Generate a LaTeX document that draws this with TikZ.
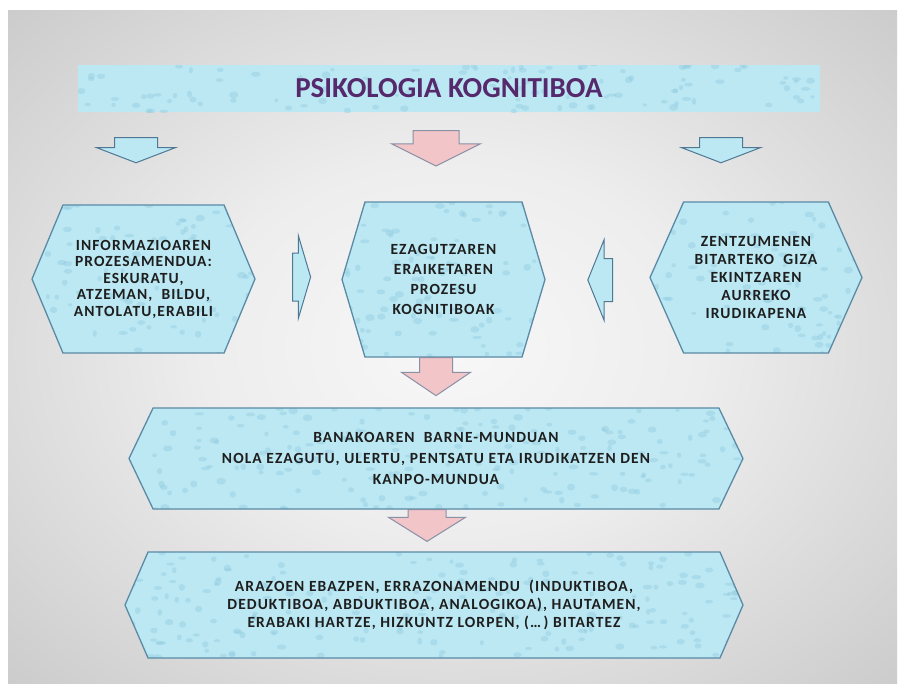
\documentclass[tikz,border=0pt]{standalone}
\usepackage{fontspec}
\setmainfont{Carlito}
\newfontfamily\boxfont[LetterSpace=7]{Carlito}
\usetikzlibrary{shapes.symbols}
\usetikzlibrary{shapes.arrows}
\definecolor{aqua}{HTML}{BCE8F3}
\definecolor{aquaspot}{HTML}{92CCE0}
\definecolor{aquaedge}{HTML}{5A8AA6}
\definecolor{arrowedge}{HTML}{4F7894}
\definecolor{rose}{HTML}{F2C5C8}
\definecolor{roseedge}{HTML}{8A90A6}
\definecolor{titlepurple}{HTML}{55296B}
\definecolor{inkgray}{HTML}{1E1E1E}
\pgfdeclareradialshading{slide}{\pgfpoint{0bp}{0bp}}{color(0bp)=(black!3); color(14bp)=(black!7); color(50bp)=(black!29); color(72bp)=(black!42)}
\pgfmathsetseed{11}
\tikzset{
	spots/.style n args = {3}{
		path picture = {
			\foreach \k in {1,...,#1}
				\fill[aquaspot, opacity=.45] ([shift={(rand*#2,rand*#3)}]path picture bounding box.center) ellipse [x radius=2+3*rnd, y radius=1.5+2*rnd];
		}
	},
	hexfont/.style = {
		font=\boxfont\bfseries\fontsize{15.5}{#1}\selectfont
	},
	node_hex/.style n args = {3}{
		signal,
		signal to=west and east,
		align=center,
		inner sep=0pt,
		text=inkgray,
		draw=aquaedge,
		line width=1.3pt,
		fill=aqua,
		spots={#1}{#2}{#3}
	},
	node_title/.style = {
		rectangle,
		fill=aqua,
		inner sep=0pt,
		text=titlepurple,
		font=\bfseries\fontsize{29}{32}\selectfont,
		spots={110}{371}{24}
	},
	arrow_base/.style = {
		single arrow,
		line width=1pt,
		anchor=tail
	},
	arrow_blue/.style = {
		arrow_base,
		draw=arrowedge,
		fill=aqua
	},
	arrow_rose/.style = {
		arrow_base,
		draw=roseedge,
		fill=rose
	}
}
\begin{document}
\begin{tikzpicture}[x=1pt, y=-1pt]
\useasboundingbox (0,0) rectangle (905,689);
\fill[white] (0,0) rectangle (905,689);
\shade[shading=slide] (8,10) rectangle (897,683);

% title banner
\node [node_title, minimum width=742pt, minimum height=47pt] (title) at (449,88.5) {PSIKOLOGIA KOGNITIBOA};

% middle row
\node [node_hex={90}{112}{75}, hexfont=16.5, minimum width=223pt, minimum height=148pt, signal pointer angle=134.6] (info) at (143.5,279)
	{INFORMAZIOAREN\\PROZESAMENDUA:\\ESKURATU,\\ATZEMAN,\ \ BILDU,\\ANTOLATU,ERABILI};
\node [node_hex={90}{102}{78}, hexfont=20, minimum width=203pt, minimum height=155pt, signal pointer angle=147] (know) at (443.5,279.5)
	{EZAGUTZAREN\\ERAIKETAREN\\PROZESU\\KOGNITIBOAK};
\node [node_hex={90}{106}{76}, hexfont=18, minimum width=212pt, minimum height=151pt, signal pointer angle=132] (sense) at (756,277.5)
	{ZENTZUMENEN\\BITARTEKO\ \ GIZA\\EKINTZAREN\\AURREKO\\IRUDIKAPENA};

% lower rows
\node [node_hex={190}{307}{51}, hexfont=21, minimum width=614pt, minimum height=101pt, signal pointer angle=129] (world) at (436,458.5)
	{BANAKOAREN\ \ BARNE-MUNDUAN\\NOLA EZAGUTU, ULERTU, PENTSATU ETA IRUDIKATZEN DEN\\KANPO-MUNDUA};
\node [node_hex={200}{309}{53}, hexfont=18, minimum width=618pt, minimum height=106pt, signal pointer angle=133] (means) at (434,605)
	{ARAZOEN EBAZPEN, ERRAZONAMENDU\ \ (INDUKTIBOA,\\DEDUKTIBOA, ABDUKTIBOA, ANALOGIKOA), HAUTAMEN,\\ERABAKI HARTZE, HIZKUNTZ LORPEN, (…\,) BITARTEZ};

% block arrows
\node [arrow_blue, rotate=-90, inner xsep=8pt, inner ysep=21pt, single arrow head extend=18pt, single arrow tip angle=138] (a_info) at (136,137) {};
\node [arrow_rose, rotate=-90, inner xsep=11.5pt, inner ysep=22.5pt, single arrow head extend=21.5pt, single arrow tip angle=127] (a_know) at (436,130) {};
\node [arrow_blue, rotate=-90, inner xsep=8pt, inner ysep=21pt, single arrow head extend=18pt, single arrow tip angle=138] (a_sense) at (721,137) {};
\node [arrow_blue, inner xsep=5pt, inner ysep=23.5pt, single arrow head extend=17.5pt, single arrow tip angle=147] (a_left) at (292,277) {};
\node [arrow_blue, rotate=180, inner xsep=7.5pt, inner ysep=21pt, single arrow head extend=19pt, single arrow tip angle=136] (a_right) at (613,280) {};
\node [arrow_rose, rotate=-90, inner xsep=13pt, inner ysep=16pt, single arrow head extend=18pt, single arrow tip angle=112] (a_world) at (436,357) {};
\node [arrow_rose, rotate=-90, inner xsep=9.5pt, inner ysep=18.5pt, single arrow head extend=19.5pt, single arrow tip angle=116] (a_means) at (427,509) {};
\end{tikzpicture}
\end{document}
